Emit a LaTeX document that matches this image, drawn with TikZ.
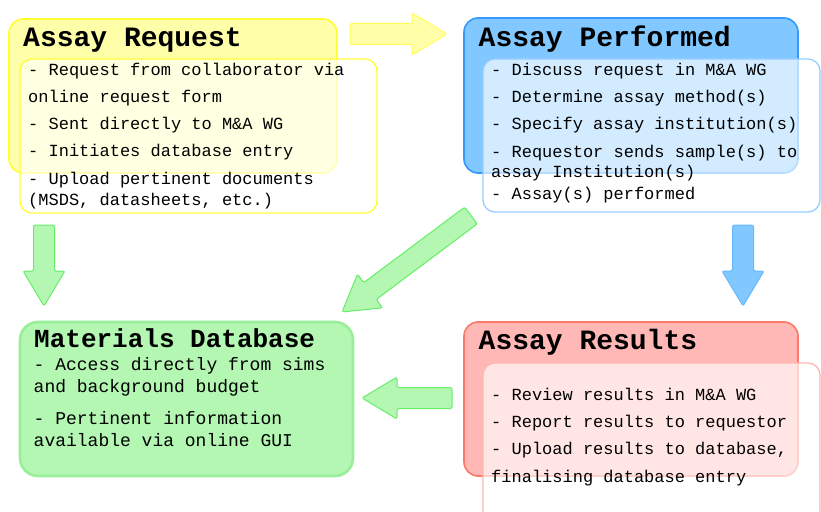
\documentclass[tikz,border=0pt]{standalone}
\usepackage{fontspec}
\setmonofont{Liberation Mono}
\usepackage{tikz}
\usetikzlibrary{calc,positioning}
\definecolor{yelf}{HTML}{FFFFAA}
\definecolor{yell}{HTML}{FFFF33}
\definecolor{yelarr}{HTML}{FFFF55}
\definecolor{bluf}{HTML}{80C8FF}
\definecolor{blul}{HTML}{3399FF}
\definecolor{bluin}{HTML}{99CCFF}
\definecolor{bluarr}{HTML}{66B8FF}
\definecolor{grnf}{HTML}{B3F7B3}
\definecolor{grnl}{HTML}{66EE66}
\definecolor{grnb}{HTML}{99EE99}
\definecolor{redf}{HTML}{FFB8B5}
\definecolor{redl}{HTML}{FF7766}
\definecolor{redin}{HTML}{FFB8B0}
\tikzset{
  outbox/.style={rounded corners=14pt,line width=1.6pt,inner sep=0pt},
  inbox/.style={rounded corners=12pt,line width=1.3pt,fill=white,fill opacity=0.65,inner sep=0pt},
  ttl/.style={anchor=base west,inner sep=0pt,font=\ttfamily\bfseries\fontsize{28}{30}\selectfont},
  txt/.style={anchor=base west,inner sep=0pt,text width=340pt,font=\ttfamily\fontsize{17}{21}\selectfont,
    execute at begin node={\spaceskip=0pt\xspaceskip=0pt\relax}},
  barr/.style={rounded corners=2pt,line width=1pt}
}
\newcommand{\blockarr}[3]{%
  \draw[barr,#1] ($(#2)!10.5pt!90:(#3)$) -- ($(#3)!35pt!(#2)!10.5pt!90:(#3)$)
    -- ($(#3)!35pt!(#2)!21pt!90:(#3)$) -- (#3)
    -- ($(#3)!35pt!(#2)!21pt!-90:(#3)$) -- ($(#3)!35pt!(#2)!10.5pt!-90:(#3)$)
    -- ($(#2)!10.5pt!-90:(#3)$) -- cycle;}

\begin{document}
\begin{tikzpicture}[x=1pt,y=-1pt]
\useasboundingbox (0,0) rectangle (821,511);
\clip (0,0) rectangle (821,511);
\node[outbox,draw=yell,fill=yelf,minimum width=328pt,minimum height=154pt] (reqbox) at (173,96) {};
\node[inbox,draw=yell,minimum width=357pt,minimum height=154pt] (reqin) at (198.5,136) {};
\node[ttl] (reqttl) at (23,47) {Assay Request};
\node[txt] (reqtxt) at (28,75) {- Request from collaborator via\\[6pt]
  online request form\\[6pt]
  - Sent directly to M\&A WG\\[6pt]
  - Initiates database entry\\[7pt]
  - Upload pertinent documents\\
  (MSDS, datasheets, etc.)};

\node[outbox,draw=blul,fill=bluf,minimum width=334pt,minimum height=155pt] (perfbox) at (631,95.5) {};
\node[inbox,draw=bluin,minimum width=337pt,minimum height=153pt] (perfin) at (651.5,135.5) {};
\node[ttl] (perfttl) at (478.5,47) {Assay Performed};
\node[txt] (perftxt) at (491,75) {- Discuss request in M\&A WG\\[6pt]
  - Determine assay method(s)\\[6pt]
  - Specify assay institution(s)\\[7pt]
  - Requestor sends sample(s) to\\[-1pt]
  assay Institution(s)\\[1pt]
  - Assay(s) performed};

\node[outbox,draw=grnb,line width=2.6pt,rounded corners=18pt,fill=grnf,minimum width=333pt,minimum height=154pt] (matbox) at (186.5,399) {};
\node[ttl,font=\ttfamily\bfseries\fontsize{26}{28}\selectfont] (matttl) at (34,347) {Materials Database};
\node[txt,font=\ttfamily\fontsize{18}{22}\selectfont] (mattxt) at (33.5,370) {- Access directly from sims\\
  and background budget\\[10pt]
  - Pertinent information\\
  available via online GUI};

\node[outbox,draw=redl,fill=redf,minimum width=334pt,minimum height=154pt] (resbox) at (631,399) {};
\node[inbox,draw=redin,minimum width=337pt,minimum height=160pt] (resin) at (651.5,443) {};
\node[ttl] (resttl) at (478.5,349) {Assay Results};
\node[txt] (restxt) at (491,400) {- Review results in M\&A WG\\[6pt]
  - Report results to requestor\\[6pt]
  - Upload results to database,\\[7pt]
  finalising database entry};

\coordinate (reqr) at (350,34);
\coordinate (perfl) at (447,34);
\coordinate (reqd) at (44,225);
\coordinate (matu) at (44,306);
\coordinate (perfd) at (743,225);
\coordinate (resu) at (743,306);
\coordinate (resl) at (452,398);
\coordinate (matr) at (362,398);
\coordinate (perfsw) at (471,215.5);
\coordinate (matne) at (342,312);
\blockarr{draw=yelarr,fill=yelf}{reqr}{perfl}
\blockarr{draw=grnl,fill=grnf}{reqd}{matu}
\blockarr{draw=bluarr,fill=bluf}{perfd}{resu}
\blockarr{draw=grnl,fill=grnf}{resl}{matr}
\blockarr{draw=grnl,fill=grnf}{perfsw}{matne}
\end{tikzpicture}
\end{document}
